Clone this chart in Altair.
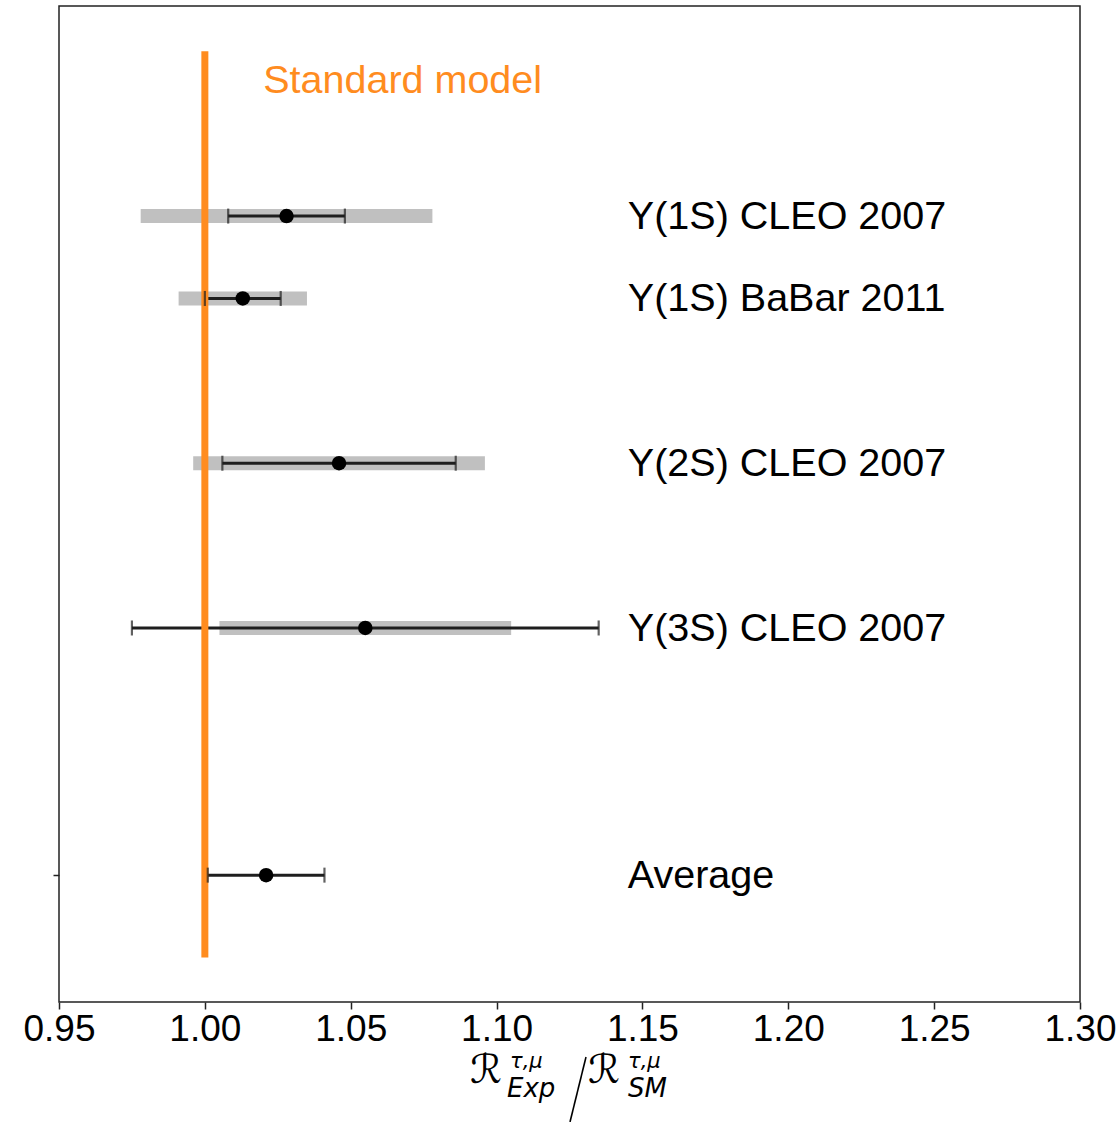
import altair as alt
import pandas as pd

# Measurements of R(tau/mu) relative to the Standard Model expectation
labels = ["Υ(1S) CLEO 2007", "Υ(1S) BaBar 2011", "Υ(2S) CLEO 2007", "Υ(3S) CLEO 2007", "Average"]
ratio = [1.028, 1.013, 1.046, 1.055, 1.021]
stat_err = [0.020, 0.013, 0.040, 0.080, 0.020]
syst_err = [0.050, 0.022, 0.050, 0.050, None]
row = [8, 7, 5, 3, 0]

x_ticks = [0.95, 1.00, 1.05, 1.10, 1.15, 1.20, 1.25, 1.30]
x_domain = [0.95, 1.30]
y_domain = [-1.54, 10.55]

sm_value = 1.0
sm_span = [-1, 10]
sm_label = "Standard model"
sm_label_pos = [1.02, 9.5]
label_x = 1.145

ORANGE = "#ff8c1f"
FONT = "Liberation Sans"

W, H = 1021, 996
PAD_L, PAD_T = 59, 6

df = pd.DataFrame({
    "label": labels,
    "ratio": ratio,
    "stat": stat_err,
    "syst": syst_err,
    "row": row,
})

xs = alt.Scale(domain=x_domain, nice=False, zero=False)
ys = alt.Scale(domain=y_domain, nice=False, zero=False)

x_axis = alt.Axis(
    values=x_ticks, format=".2f", title=None, grid=False, domain=False,
    labelFontSize=37, labelFont=FONT, labelColor="black", labelFlush=False,
    labelOverlap=False, labelPadding=2, tickSize=7, tickWidth=1.5, tickColor="#222",
)
y_axis = alt.Axis(
    values=[0], labels=False, title=None, grid=False, domain=False,
    tickSize=6, tickWidth=1.5, tickColor="#222",
)

base = alt.Chart(df)

# systematic uncertainty: grey band
band = base.transform_filter("isValid(datum.syst)").transform_calculate(
    lo="datum.ratio - datum.syst", hi="datum.ratio + datum.syst"
).mark_rule(color="#c0c0c0", strokeWidth=14).encode(
    x=alt.X("lo:Q", scale=xs, axis=x_axis),
    x2="hi:Q",
    y=alt.Y("row:Q", scale=ys, axis=y_axis),
)

# statistical uncertainty: black error bar with caps
err = base.transform_calculate(
    lo="datum.ratio - datum.stat", hi="datum.ratio + datum.stat"
)
bar = err.mark_rule(color="#1e1e1e", strokeWidth=3).encode(
    x=alt.X("lo:Q", scale=xs), x2="hi:Q", y=alt.Y("row:Q", scale=ys)
)
cap_lo = err.mark_tick(color="#1e1e1e", orient="vertical", size=15, thickness=2.2).encode(
    x=alt.X("lo:Q", scale=xs), y=alt.Y("row:Q", scale=ys)
)
cap_hi = err.mark_tick(color="#1e1e1e", orient="vertical", size=15, thickness=2.2).encode(
    x=alt.X("hi:Q", scale=xs), y=alt.Y("row:Q", scale=ys)
)

points = base.mark_circle(color="black", size=210, opacity=1).encode(
    x=alt.X("ratio:Q", scale=xs), y=alt.Y("row:Q", scale=ys)
)

names = base.mark_text(
    align="left", baseline="middle", font=FONT, fontSize=39.5, color="black", dy=1
).encode(
    x=alt.X("lx:Q", scale=xs), y=alt.Y("row:Q", scale=ys), text="label:N"
).transform_calculate(lx=str(label_x))

# Standard Model reference line and its label
sm_df = pd.DataFrame({"x": [sm_value], "y0": [sm_span[0]], "y1": [sm_span[1]],
                      "tx": [sm_label_pos[0]], "ty": [sm_label_pos[1]], "t": [sm_label]})
sm_line = alt.Chart(sm_df).mark_rule(color=ORANGE, strokeWidth=7).encode(
    x=alt.X("x:Q", scale=xs), y=alt.Y("y0:Q", scale=ys), y2="y1:Q"
)
sm_text = alt.Chart(sm_df).mark_text(
    align="left", baseline="alphabetic", font=FONT, fontSize=39.5, color=ORANGE
).encode(x=alt.X("tx:Q", scale=xs), y=alt.Y("ty:Q", scale=ys), text="t:N")


# x-axis title: R_Exp^{tau,mu} / R_SM^{tau,mu}, built from text pieces
def piece(text, left, baseline_y, size, style="normal", font="DejaVu Sans"):
    return alt.Chart(sm_df).mark_text(
        text=text, align="left", baseline="alphabetic", fontSize=size,
        fontStyle=style, font=font, color="black",
    ).encode(x=alt.value(left - PAD_L), y=alt.value(baseline_y - PAD_T))


title_parts = [
    piece("ℛ", 470, 1083, 40),
    piece("τ,μ", 510, 1068, 21, "italic"),
    piece("Exp", 507, 1097, 26, "italic"),
    piece("ℛ", 588, 1083, 40),
    piece("τ,μ", 628, 1068, 21, "italic"),
    piece("SM", 628, 1097, 26, "italic"),
]
slash = alt.Chart(sm_df).mark_rule(color="black", strokeWidth=1.6).encode(
    x=alt.value(586 - PAD_L), y=alt.value(1057 - PAD_T),
    x2=alt.value(570 - PAD_L), y2=alt.value(1122 - PAD_T),
)

chart = alt.layer(
    band, bar, sm_line, cap_lo, cap_hi, points, names, sm_text, slash, *title_parts
).properties(
    width=W, height=H,
    autosize=alt.AutoSizeParams(type="none"),
    padding={"left": PAD_L, "top": PAD_T, "right": 1120 - PAD_L - W, "bottom": 1122 - PAD_T - H},
).configure(
    background="white",
    view=alt.ViewConfig(stroke="#222222", strokeWidth=1.5),
)

chart.save("out.html", embed_options={"renderer": "svg", "actions": False})
